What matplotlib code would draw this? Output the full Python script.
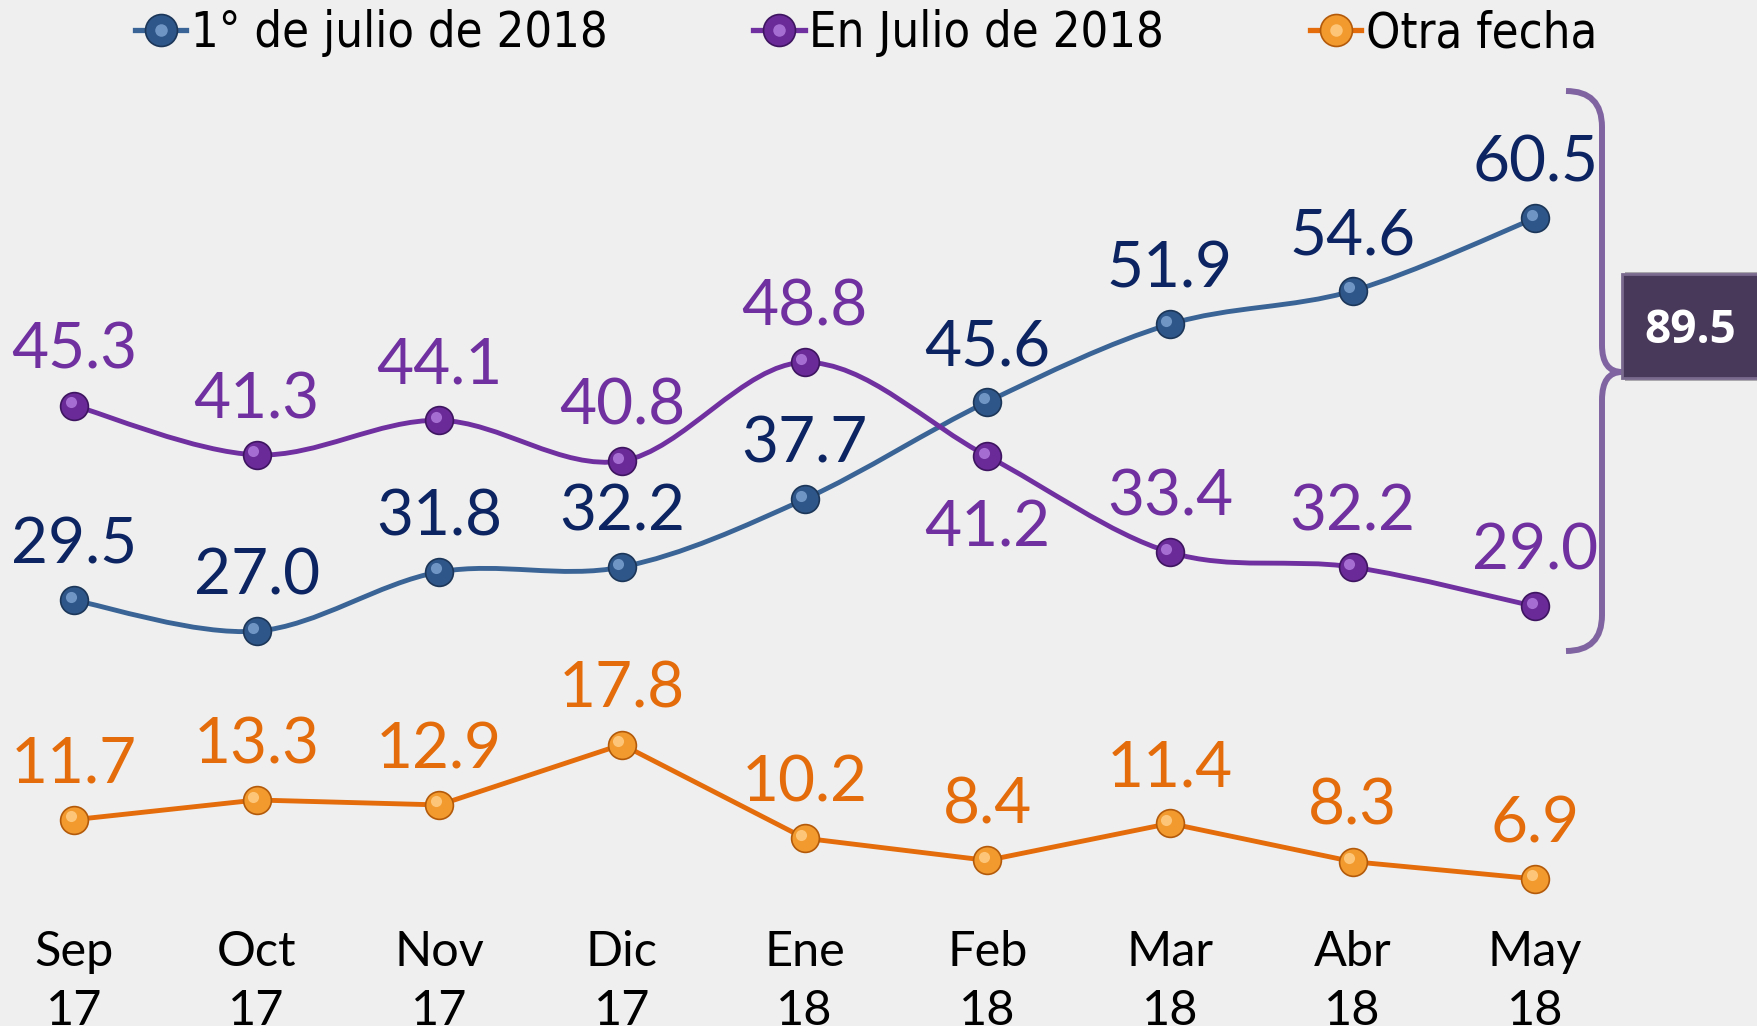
import numpy as np
import matplotlib.pyplot as plt
from matplotlib.path import Path
from matplotlib.patches import PathPatch, Rectangle
from matplotlib.lines import Line2D
from matplotlib import transforms

# data
meses = ['Sep\n17', 'Oct\n17', 'Nov\n17', 'Dic\n17', 'Ene\n18', 'Feb\n18', 'Mar\n18', 'Abr\n18', 'May\n18']
primero_julio = [29.5, 27.0, 31.8, 32.2, 37.7, 45.6, 51.9, 54.6, 60.5]
en_julio = [45.3, 41.3, 44.1, 40.8, 48.8, 41.2, 33.4, 32.2, 29.0]
otra_fecha = [11.7, 13.3, 12.9, 17.8, 10.2, 8.4, 11.4, 8.3, 6.9]
total_mayo = '89.5'

BG = '#EFEFEF'
W, H = 1758, 1026


def fx(px):
    return px / W


def fy(py):
    return 1 - py / H


def smooth_path(x, y):
    # excel-like smoothed line (catmull-rom bezier through the points)
    pts = np.column_stack([x, y]).astype(float)
    n = len(pts)
    verts = [pts[0]]
    codes = [Path.MOVETO]
    for i in range(n - 1):
        p0 = pts[max(i - 1, 0)]
        p1 = pts[i]
        p2 = pts[i + 1]
        p3 = pts[min(i + 2, n - 1)]
        verts += [p1 + (p2 - p0) / 6, p2 - (p3 - p1) / 6, p2]
        codes += [Path.CURVE4] * 3
    return Path(verts, codes)


fig = plt.figure(figsize=(W / 100, H / 100), dpi=100, facecolor=BG)
ax = fig.add_axes([0, 1 - 915 / H, 1, 915 / H])
ax.set_facecolor(BG)
ax.set_xlim(-0.405, 9.22)
ax.set_ylim(3.97, 78.2)
x = np.arange(len(meses))

series = [
    # values, line color, label color, sphere base, sphere light, edge, smooth, label
    (primero_julio, '#3A6495', '#0C2461', '#2F5688', '#7FA6D4', '#1B3658', True, '1° de julio de 2018'),
    (en_julio, '#7030A0', '#7030A0', '#6A2A98', '#B57FE0', '#3E1560', True, 'En Julio de 2018'),
    (otra_fecha, '#E46C0A', '#E46C0A', '#F39A2E', '#FFD08A', '#B35A0A', False, 'Otra fecha'),
]

hl = transforms.offset_copy(ax.transData, fig=fig, x=-2.5, y=2.5, units='points')
handles = []
for vals, lc, tc, base, light, edge, smooth, lab in series:
    if smooth:
        ax.add_patch(PathPatch(smooth_path(x, vals), facecolor='none', edgecolor=lc, lw=3.5, zorder=2))
    else:
        ax.plot(x, vals, color=lc, lw=3.5, zorder=2)
    ax.plot(x, vals, ls='none', marker='o', ms=20, mfc=base, mec=edge, mew=1.2, zorder=3)
    ax.plot(x, vals, ls='none', marker='o', ms=8, mfc=light, mec='none', alpha=0.8,
            transform=hl, zorder=4)
    h1 = Line2D([], [], color=lc, lw=3.8, marker='o', ms=23, mfc=base, mec=edge, mew=1.2)
    h2 = Line2D([], [], ls='none', marker='o', ms=9, mfc=light, mec='none', alpha=0.8)
    handles.append(((h1, h2), lab))

    for i, v in enumerate(vals):
        below = (vals is en_julio and i == 5)
        off = -65 if below else 26.5
        ax.annotate(f'{v:.1f}', (i, v), xytext=(0, off), textcoords='offset points',
                    ha='center', va='baseline', fontsize=46, family='Lato', color=tc, zorder=5)

ax.set_xticks(x)
ax.set_xticklabels(meses, fontsize=35, family='Lato', linespacing=1.4)
ax.tick_params(axis='x', length=0, pad=11)
ax.set_yticks([])
for s in ax.spines.values():
    s.set_visible(False)

leg = fig.legend([h for h, _ in handles], [l for _, l in handles], loc='upper left',
                 bbox_to_anchor=(fx(135), fy(9)), ncol=3, frameon=False,
                 borderpad=0, borderaxespad=0, handlelength=1.05, handletextpad=0.1,
                 columnspacing=3.0,
                 prop={'family': 'DejaVu Sans', 'stretch': 'condensed', 'size': 35})

# bracket for May total
bp = [(1566, 91), (1602, 91), (1602, 127), (1602, 345), (1602, 372), (1622, 372),
      (1602, 372), (1602, 400), (1602, 615), (1602, 651), (1566, 651)]
bc = [Path.MOVETO, Path.CURVE3, Path.CURVE3, Path.LINETO, Path.CURVE3, Path.CURVE3,
      Path.CURVE3, Path.CURVE3, Path.LINETO, Path.CURVE3, Path.CURVE3]
bracket = Path([(fx(a), fy(b)) for a, b in bp], bc)
fig.add_artist(PathPatch(bracket, facecolor='none', edgecolor='#8064A2', lw=4.3,
                         transform=fig.transFigure, capstyle='butt', joinstyle='round'))

fig.add_artist(Rectangle((fx(1625), fy(381)), fx(1758) - fx(1625), fy(272) - fy(381),
                         transform=fig.transFigure, facecolor='#2a2233', edgecolor='none', alpha=0.35))
fig.add_artist(Rectangle((fx(1622), fy(378)), fx(1758) - fx(1622), fy(274) - fy(378),
                         transform=fig.transFigure, facecolor='#483859', edgecolor='#7A6A8E', lw=2))
fig.text(fx(1690), fy(343), total_mayo, ha='center', va='baseline', fontsize=33,
         fontweight='bold', family='Open Sans', color='white')

fig.savefig('out.png', dpi=100, facecolor=BG)
